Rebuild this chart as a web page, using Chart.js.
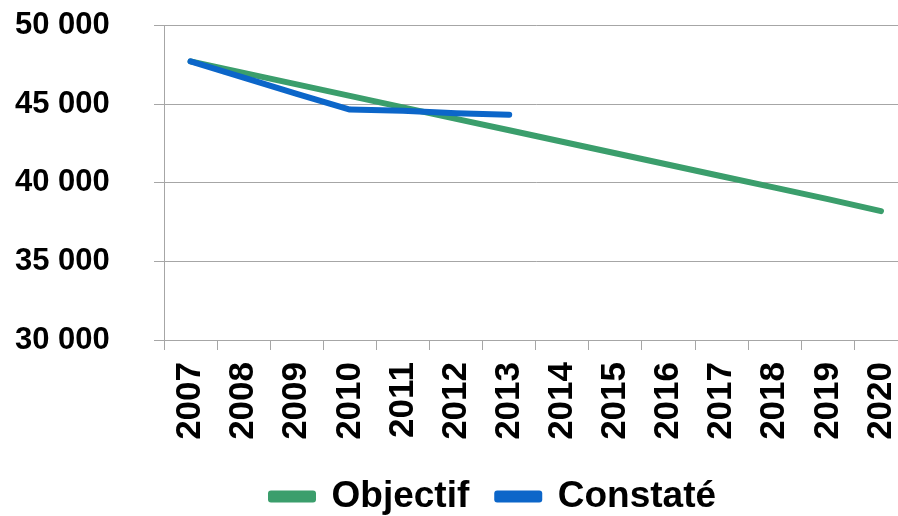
<!DOCTYPE html>
<html>
<head>
<meta charset="utf-8">
<script src="https://cdn.jsdelivr.net/npm/chart.js@4"></script>
<style>
  html, body { margin: 0; padding: 0; background: #fff; overflow: hidden; }
  #wrap { width: 935px; height: 516px; }
</style>
</head>
<body>
<div id="wrap"><canvas id="chart" width="935" height="516"></canvas></div>
<script>
// years on the x axis
const years = ['2007', '2008', '2009', '2010', '2011', '2012', '2013',
               '2014', '2015', '2016', '2017', '2018', '2019', '2020'];

// target trajectory (green)
const objectif = [47720, 46990, 46260, 45530, 44800, 44070, 43340,
                  42610, 41880, 41150, 40420, 39690, 38960, 38200];

// observed values (blue), only up to 2013
const constate = [47720, 46690, 45660, 44660, 44580, 44420, 44330];

const yTickValues = [30000, 35000, 40000, 45000, 50000];
const yTickLabels = ['30 000', '35 000', '40 000', '45 000', '50 000'];

const gridGrey = '#a6a6a6';
const fontFamily = '"Liberation Sans", Arial, sans-serif';

// the legend is placed by hand: offset from the plot, as in the original
const legendPlacer = {
    id: 'legendPlacer',
    afterLayout(chart) {
        const lg = chart.legend;
        if (!lg) return;
        lg.left = 243;
        lg.top += 9;
    }
};

const chart = new Chart(document.getElementById('chart').getContext('2d'), {
    type: 'line',
    data: {
        labels: years,
        datasets: [
            {
                label: 'Objectif',
                data: objectif,
                borderColor: '#3b9e6c',
                backgroundColor: '#3b9e6c',
                borderWidth: 6,
                borderCapStyle: 'round',
                borderJoinStyle: 'round',
                pointRadius: 0,
                tension: 0,
                order: 1
            },
            {
                label: 'Constaté',
                data: constate,
                borderColor: '#0c66c9',
                backgroundColor: '#0c66c9',
                borderWidth: 6,
                borderCapStyle: 'round',
                borderJoinStyle: 'round',
                pointRadius: 0,
                tension: 0,
                order: 0
            }
        ]
    },
    options: {
        responsive: false,
        animation: false,
        layout: {
            padding: { left: 15, top: 0, right: 0, bottom: 0 }
        },
        plugins: {
            tooltip: { enabled: false },
            legend: {
                position: 'bottom',
                align: 'start',
                labels: {
                    sort: (a, b) => a.datasetIndex - b.datasetIndex,
                    boxWidth: 42,
                    boxHeight: 6,
                    padding: 28,
                    color: '#000',
                    font: { family: fontFamily, size: 37, weight: 'bold' }
                }
            }
        },
        scales: {
            x: {
                offset: true,
                afterFit: (scale) => { scale.height = 101; },
                grid: {
                    offset: true,
                    drawOnChartArea: false,
                    tickLength: 10,
                    color: gridGrey
                },
                border: { color: gridGrey },
                ticks: {
                    minRotation: 90,
                    maxRotation: 90,
                    padding: 12,
                    color: '#000',
                    font: { family: fontFamily, size: 35, weight: 'bold' }
                }
            },
            y: {
                min: 30000,
                max: 50000,
                afterFit: (scale) => { scale.width = 149; },
                grid: {
                    color: gridGrey,
                    tickLength: 10
                },
                border: { color: gridGrey },
                ticks: {
                    stepSize: 5000,
                    padding: 7,
                    crossAlign: 'far',
                    color: '#000',
                    font: { family: fontFamily, size: 31, weight: 'bold' },
                    callback: (v) => yTickLabels[yTickValues.indexOf(v)]
                }
            }
        }
    },
    plugins: [legendPlacer]
});
</script>
</body>
</html>
